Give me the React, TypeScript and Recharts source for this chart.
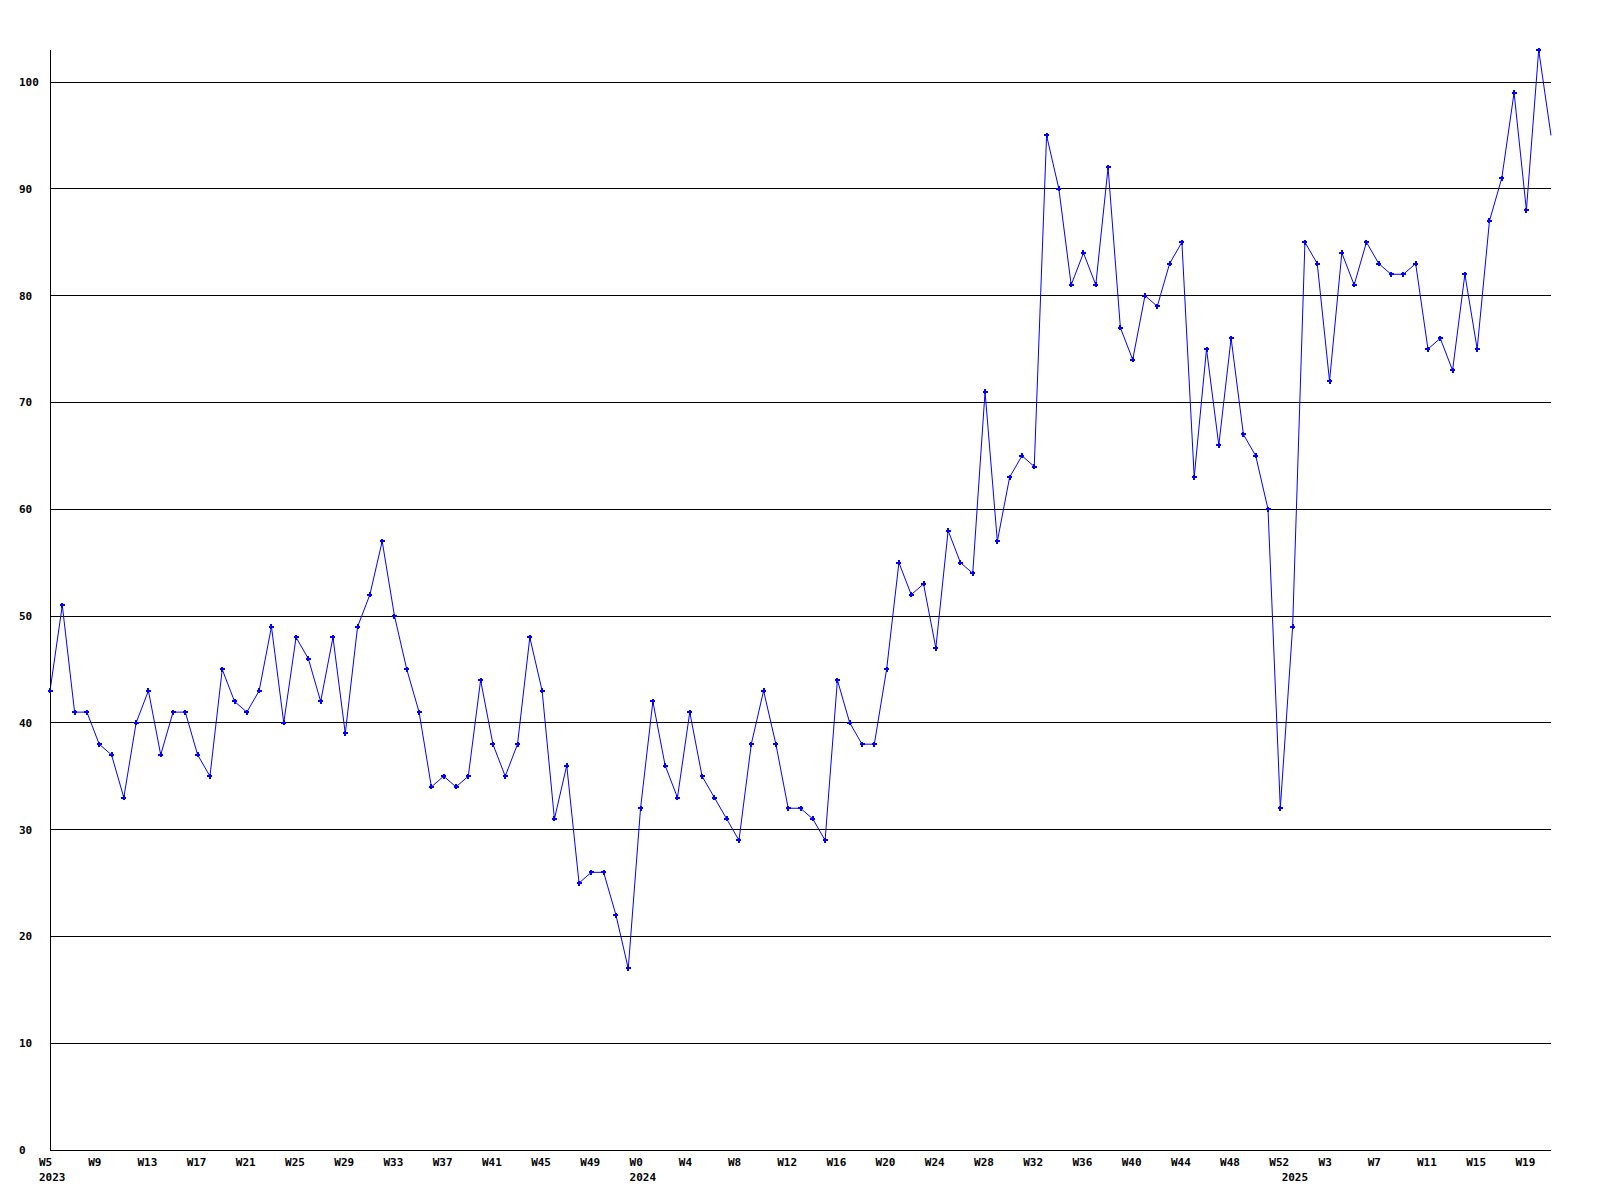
import { Line, LineChart, ReferenceLine, XAxis, YAxis } from "recharts";

const years = [2023, 2024, 2025];
const firstWeeks = [5, 0, 0];

const values2023 = [
  43, 51, 41, 41, 38, 37, 33, 40, 43, 37, 41, 41, 37, 35, 45, 42, 41, 43, 49, 40, 48, 46, 42, 48,
  39, 49, 52, 57, 50, 45, 41, 34, 35, 34, 35, 44, 38, 35, 38, 48, 43, 31, 36, 25, 26, 26, 22, 17,
];
const values2024 = [
  32, 42, 36, 33, 41, 35, 33, 31, 29, 38, 43, 38, 32, 32, 31, 29, 44, 40, 38, 38, 45, 55, 52, 53,
  47, 58, 55, 54, 71, 57, 63, 65, 64, 95, 90, 81, 84, 81, 92, 77, 74, 80, 79, 83, 85, 63, 75, 66,
  76, 67, 65, 60, 32,
];
const values2025 = [49, 85, 83, 72, 84, 81, 85, 83, 82, 82, 83, 75, 76, 73, 82, 75, 87, 91, 99, 88, 103, 95];

const yTicks = [0, 10, 20, 30, 40, 50, 60, 70, 80, 90, 100];

const seriesByYear = [values2023, values2024, values2025];

type Point = { index: number; week: number; year: number; yearStart: boolean; value: number };

const data: Point[] = [];
seriesByYear.forEach((values, y) => {
  values.forEach((value, i) => {
    data.push({
      index: data.length,
      week: firstWeeks[y] + i,
      year: years[y],
      yearStart: i === 0,
      value,
    });
  });
});

const xTicks = data.filter((p) => p.index % 4 === 0 || p.yearStart).map((p) => p.index);
const lastIndex = data.length - 1;

const FONT = "'DejaVu Sans Mono', monospace";

function XTick(props: any) {
  const { x, y, payload } = props;
  const point = data[payload.value];
  if (!point) return null;
  return (
    <g>
      {point.index % 4 === 0 && (
        <text x={x - 11} y={y + 16} fontFamily={FONT} fontSize={11} fontWeight="bold" fill="#000">
          {`W${point.week}`}
        </text>
      )}
      {point.yearStart && (
        <text x={x - 11} y={y + 31} fontFamily={FONT} fontSize={11} fontWeight="bold" fill="#000">
          {point.year}
        </text>
      )}
    </g>
  );
}

function YTick(props: any) {
  const { y, payload } = props;
  return (
    <text x={19} y={y + 4} fontFamily={FONT} fontSize={11} fontWeight="bold" fill="#000">
      {payload.value}
    </text>
  );
}

function Marker(props: any) {
  const { cx, cy, index } = props;
  if (index === lastIndex || cx == null || cy == null) return <g key={`m${index}`} />;
  const d = `M${cx - 1} ${cy - 2.5}h2v1.5h1.5v2h-1.5v1.5h-2v-1.5h-1.5v-2h1.5z`;
  return <path key={`m${index}`} d={d} fill="#0000ff" shapeRendering="crispEdges" />;
}

export default function App() {
  return (
    <div style={{ position: "absolute", left: 0, top: 0, width: 1600, height: 1200, background: "#fff" }}>
      <LineChart
        width={1600}
        height={1200}
        data={data}
        margin={{ top: 50, right: 49, bottom: 0, left: 0 }}
      >
        {yTicks.slice(1).map((v) => (
          <ReferenceLine key={v} y={v} stroke="#000" strokeWidth={1} shapeRendering="crispEdges" />
        ))}
        <XAxis
          dataKey="index"
          type="number"
          domain={[0, lastIndex]}
          ticks={xTicks}
          interval={0}
          height={50}
          tickLine={false}
          tickSize={0}
          tickMargin={0}
          axisLine={{ stroke: "#000", strokeWidth: 1, shapeRendering: "crispEdges" }}
          tick={<XTick />}
        />
        <YAxis
          type="number"
          domain={[0, 103]}
          ticks={yTicks}
          interval={0}
          width={50}
          tickLine={false}
          tickSize={0}
          axisLine={{ stroke: "#000", strokeWidth: 1, shapeRendering: "crispEdges" }}
          tick={<YTick />}
        />
        <Line
          dataKey="value"
          type="linear"
          stroke="#0000ff"
          strokeWidth={1}
          dot={<Marker />}
          activeDot={false}
          isAnimationActive={false}
        />
      </LineChart>
    </div>
  );
}
